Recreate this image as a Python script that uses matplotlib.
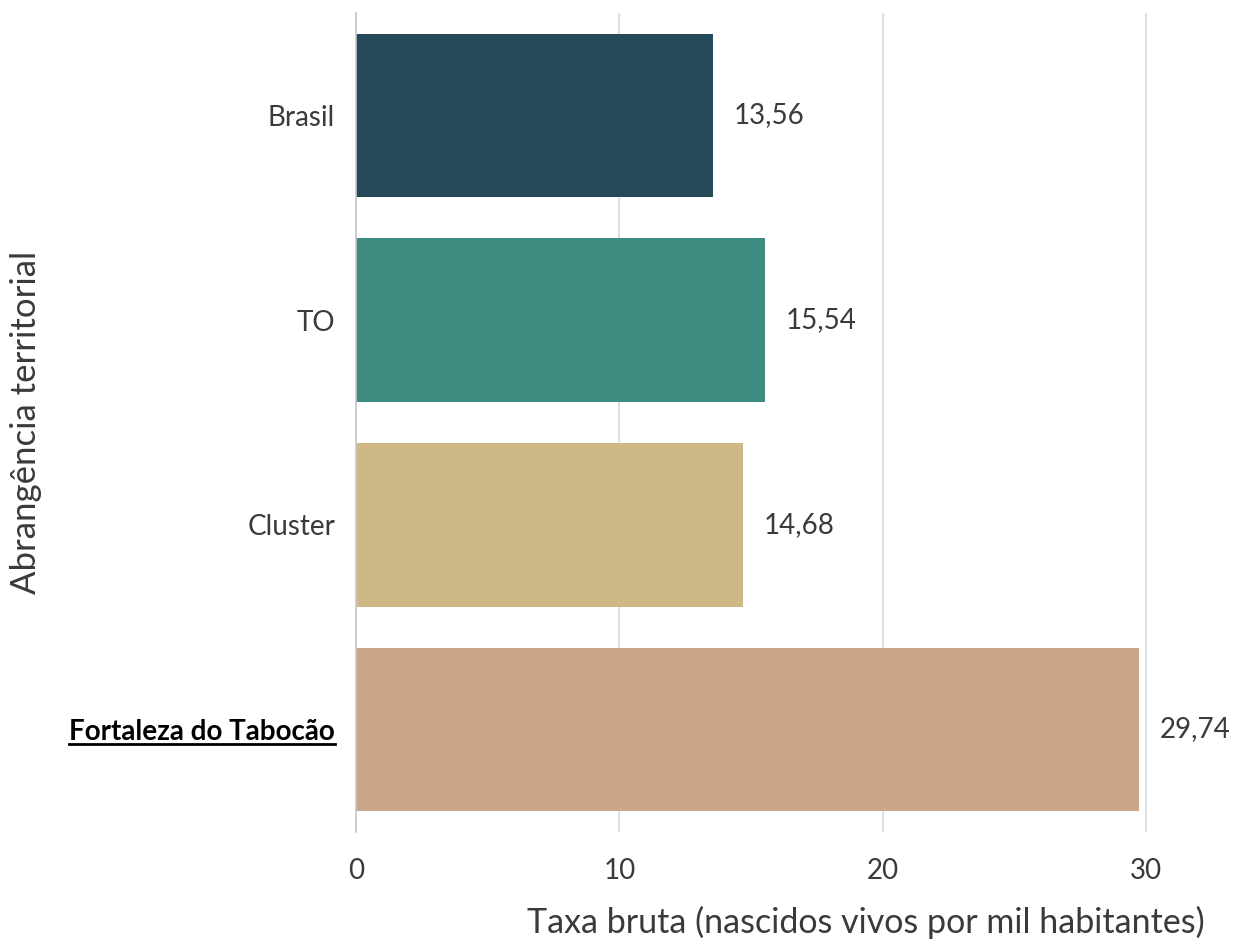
import matplotlib
matplotlib.use("Agg")
import matplotlib.pyplot as plt
from matplotlib.lines import Line2D

categories = ["Brasil", "TO", "Cluster", "Fortaleza do Tabocão"]
values = [13.56, 15.54, 14.68, 29.74]
value_labels = ["13,56", "15,54", "14,68", "29,74"]
colors = ["#254A59", "#3D8B81", "#CDB886", "#CBA689"]
highlight = "Fortaleza do Tabocão"

plt.rcParams["font.family"] = ["Lato", "DejaVu Sans"]
TXT = "#3a3a3a"

fig = plt.figure(figsize=(12.34, 9.43), dpi=100)
ax = fig.add_axes([0.2885, 0.118, 0.688, 0.868])

y = list(range(len(categories)))
ax.barh(y, values, height=0.8, color=colors, zorder=2)
ax.set_ylim(3.5, -0.5)
ax.set_xlim(0, 32.24)
ax.set_xticks([0, 10, 20, 30])
ax.xaxis.grid(True, color="#d9d9d9", linewidth=1.2, zorder=0)
ax.set_axisbelow(True)
for side in ["top", "right", "bottom"]:
    ax.spines[side].set_visible(False)
ax.spines["left"].set_color("#c8c8c8")
ax.spines["left"].set_linewidth(1.2)
ax.tick_params(axis="both", length=0, labelsize=20, labelcolor=TXT, pad=15)
ax.tick_params(axis="x", pad=19)
ax.set_yticks(y)
ax.set_yticklabels(categories)
for lbl in ax.get_yticklabels():
    if lbl.get_text() == highlight:
        lbl.set_fontweight("bold")
        lbl.set_color("black")

for yi, v, t in zip(y, values, value_labels):
    ax.annotate(t, (v, yi), xytext=(15, 0), textcoords="offset points",
                ha="left", va="center", fontsize=20, color=TXT)

ax.set_xlabel("Taxa bruta (nascidos vivos por mil habitantes)", fontsize=24.5,
              color=TXT, loc="right", labelpad=16)
ax.set_ylabel("Abrangência territorial", fontsize=25, color=TXT)
ax.yaxis.set_label_coords(-0.37, 0.5)

# underline highlighted label
fig.canvas.draw()
renderer = fig.canvas.get_renderer()
W, H = fig.get_size_inches() * fig.dpi
for lbl in ax.get_yticklabels():
    if lbl.get_text() == highlight:
        bb = lbl.get_window_extent(renderer)
        yy = (bb.y0 + 1) / H
        fig.add_artist(Line2D([bb.x0 / W, bb.x1 / W], [yy, yy], color="black", linewidth=2))

fig.savefig("out.png", dpi=100)
